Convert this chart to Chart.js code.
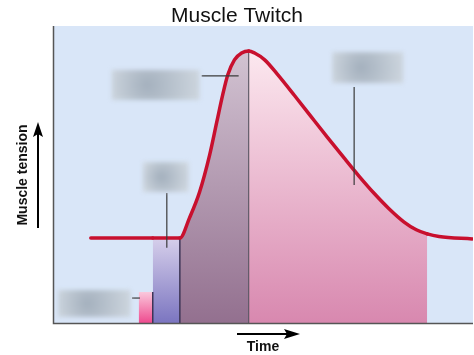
<!DOCTYPE html>
<html><head><meta charset="utf-8">
<script src="https://cdn.jsdelivr.net/npm/chart.js@4"></script>
<style>html,body{margin:0;padding:0;background:#fff;}canvas{display:block;}</style>
</head><body>
<canvas id="c" width="474" height="355"></canvas>
<script>
// ---- data ----
const chartTitle = 'Muscle Twitch';
const yAxisLabel = 'Muscle tension';
const xAxisLabel = 'Time';
const timeValues    = [9.0, 23.75, 30.2, 32.5, 34.9, 37.3, 39.0, 40.4, 41.6, 43.2, 44.9, 46.6,
                       48.0, 50.4, 53.4, 57.5, 61.5, 65.3, 69.4, 72.9, 76.5, 80.0, 83.6, 86.5, 89.1, 91.9, 99.8];
const tensionValues = [28.6, 28.6, 28.6, 35.4, 44.1, 56.6, 67.7, 76.8, 83.5, 88.6, 90.9, 91.6,
                       90.9, 88.6, 83.8, 76.6, 69.4, 62.6, 55.4, 49.4, 43.6, 38.5, 34.0, 31.4, 30.0, 29.1, 28.3];
// phase boundaries on the time axis: stimulus start, latent start, contraction start, relaxation start, relaxation end
const phaseStarts = [20.4, 23.75, 30.2, 46.6, 89.1];
const stimulusLevel = 10.4;
// leader lines pointing to the (hidden) labels: [[t0,v0],[t1,v1]]
const leaderLines = [
  [[27.1, 43.8], [27.1, 25.3]],
  [[35.4, 83.2], [44.2, 83.2]],
  [[71.7, 79.5], [71.7, 46.5]],
  [[18.8, 8.4], [20.7, 8.4]]
];
// hidden label boxes [tMin, tMax, vMin, vMax]
const labelBoxes = [
  [14.0, 34.9, 75.1, 85.2],
  [21.4, 32.3, 44.1, 54.2],
  [66.5, 83.4, 80.8, 91.2],
  [1.2, 18.5, 2.0, 11.1]
];

// ---- styling ----
const RED = '#c8102e';
const gradCache = {};
function grad(chart, key, vTop, c0, c1) {
  const a = chart.chartArea;
  if (!a) return c1;
  const ys = chart.scales.y;
  const top = ys.getPixelForValue(vTop);
  const k = key + ':' + a.top + ':' + a.bottom + ':' + top;
  if (!gradCache[k]) {
    const g = chart.ctx.createLinearGradient(0, top, 0, a.bottom);
    g.addColorStop(0, c0); g.addColorStop(1, c1);
    gradCache[k] = g;
  }
  return gradCache[k];
}
function segFill(ctx) {
  const t0 = timeValues[ctx.p0DataIndex], t1 = timeValues[ctx.p1DataIndex];
  const ch = ctx.chart;
  if (t0 >= phaseStarts[1] && t1 <= phaseStarts[2]) return grad(ch, 'lat', tensionValues[1], '#d6cfeb', '#7b75c0');
  if (t0 >= phaseStarts[2] && t1 <= phaseStarts[3]) return grad(ch, 'con', Math.max(...tensionValues), '#d2c3d2', '#93708f');
  if (t0 >= phaseStarts[3] && t1 <= phaseStarts[4]) return grad(ch, 'rel', Math.max(...tensionValues), '#fce8ef', '#d888af');
  return 'rgba(0,0,0,0)';
}
function seg(pts) { return pts.map(p => ({x: p[0], y: p[1]})); }

const datasets = [
  {
    label: 'tension',
    data: timeValues.map((t, i) => ({x: t, y: tensionValues[i]})),
    borderColor: RED, borderWidth: 3.5, borderCapStyle: 'round', borderJoinStyle: 'round',
    cubicInterpolationMode: 'monotone',
    fill: 'origin', backgroundColor: 'rgba(0,0,0,0)',
    segment: { backgroundColor: segFill },
    order: 1
  },
  {
    label: 'stimulus',
    data: [{x: phaseStarts[0], y: stimulusLevel}, {x: phaseStarts[1], y: stimulusLevel}],
    borderWidth: 0, borderColor: 'rgba(0,0,0,0)',
    fill: 'origin',
    backgroundColor: (c) => grad(c.chart, 'stim', stimulusLevel, '#fac8dc', '#ee4a8e'),
    order: 3
  },
  { label: 'b1', data: [{x: phaseStarts[1], y: 0}, {x: phaseStarts[1], y: stimulusLevel}], borderColor: '#3c3456', borderWidth: 1.5, fill: false, order: 2 },
  { label: 'b2', data: [{x: phaseStarts[2], y: 0}, {x: phaseStarts[2], y: tensionValues[2]}], borderColor: '#3c3456', borderWidth: 1.5, fill: false, order: 2 },
  { label: 'b3', data: [{x: phaseStarts[3], y: 0}, {x: phaseStarts[3], y: Math.max(...tensionValues)}], borderColor: '#4a4450', borderWidth: 1, fill: false, order: 2 }
].concat(leaderLines.map((l, i) => ({
  label: 'leader' + i, data: seg(l), borderColor: '#3a3a3a', borderWidth: 1.2, fill: false, order: 0
})));

const deco = {
  id: 'deco',
  beforeDraw(chart) {
    const {ctx, chartArea: a} = chart;
    ctx.save();
    ctx.fillStyle = '#ffffff'; ctx.fillRect(0, 0, chart.width, chart.height);
    ctx.fillStyle = '#d9e6f8'; ctx.fillRect(a.left, a.top, a.right - a.left, a.bottom - a.top);
    ctx.restore();
  },
  afterDatasetsDraw(chart) {
    const {ctx} = chart; const xs = chart.scales.x, ys = chart.scales.y;
    ctx.save();
    ctx.filter = 'blur(2px)';
    labelBoxes.forEach(b => {
      const x0 = xs.getPixelForValue(b[0]), x1 = xs.getPixelForValue(b[1]);
      const y0 = ys.getPixelForValue(b[3]), y1 = ys.getPixelForValue(b[2]);
      const cx = (x0 + x1) / 2, cy = (y0 + y1) / 2;
      const g = ctx.createRadialGradient(cx - (x1 - x0) * 0.1, cy, 2, cx, cy, Math.max(x1 - x0, y1 - y0) * 0.6);
      g.addColorStop(0, '#a6b2bf'); g.addColorStop(1, '#d3dbe3');
      ctx.fillStyle = g;
      ctx.fillRect(x0, y0, x1 - x0, y1 - y0);
    });
    ctx.restore();
  },
  afterDraw(chart) {
    const {ctx, chartArea: a} = chart;
    ctx.save();
    // axis lines
    ctx.strokeStyle = '#555'; ctx.lineWidth = 1.5;
    ctx.beginPath(); ctx.moveTo(a.left + 0.5, a.top); ctx.lineTo(a.left + 0.5, a.bottom + 0.5); ctx.lineTo(a.right, a.bottom + 0.5); ctx.stroke();
    // title
    ctx.fillStyle = '#111';
    ctx.font = '21px "Liberation Sans", Arial, sans-serif';
    ctx.textAlign = 'center'; ctx.textBaseline = 'alphabetic';
    ctx.fillText(chartTitle, 237, 22);
    // x label
    ctx.font = 'bold 14px "Liberation Sans", Arial, sans-serif';
    ctx.fillText(xAxisLabel, 263, 351);
    // y label
    ctx.save(); ctx.translate(27, 175); ctx.rotate(-Math.PI / 2);
    ctx.fillText(yAxisLabel, 0, 0); ctx.restore();
    // arrows
    ctx.strokeStyle = '#000'; ctx.fillStyle = '#000'; ctx.lineWidth = 2;
    ctx.beginPath(); ctx.moveTo(38, 228); ctx.lineTo(38, 132); ctx.stroke();
    ctx.beginPath(); ctx.moveTo(38, 122); ctx.lineTo(43, 137); ctx.lineTo(38, 134); ctx.lineTo(33, 137); ctx.closePath(); ctx.fill();
    ctx.beginPath(); ctx.moveTo(237, 334); ctx.lineTo(290, 334); ctx.stroke();
    ctx.beginPath(); ctx.moveTo(300, 334); ctx.lineTo(284, 329); ctx.lineTo(287, 334); ctx.lineTo(284, 339); ctx.closePath(); ctx.fill();
    ctx.restore();
  }
};

new Chart(document.getElementById('c'), {
  type: 'line',
  data: { datasets },
  options: {
    responsive: false, animation: false, events: [],
    layout: { padding: { left: 53, right: 1, top: 26, bottom: 32 } },
    scales: {
      x: { type: 'linear', min: 0, max: 100, display: false },
      y: { type: 'linear', min: 0, max: 100, display: false }
    },
    elements: { point: { radius: 0 } },
    plugins: {
      legend: { display: false }, tooltip: { enabled: false }, title: { display: false },
      filler: { drawTime: 'beforeDatasetsDraw' }
    }
  },
  plugins: [deco]
});
</script>
</body></html>
